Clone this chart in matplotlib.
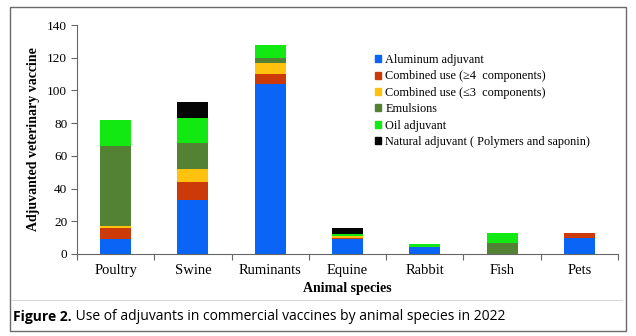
import matplotlib

matplotlib.use("Agg")
import matplotlib.pyplot as plt
import numpy as np
from matplotlib.lines import Line2D
from matplotlib.patches import Patch, Rectangle

plt.rcParams["font.family"] = ["Liberation Serif", "DejaVu Serif"]

species = ["Poultry", "Swine", "Ruminants", "Equine", "Rabbit", "Fish", "Pets"]
series_names = [
    "Aluminum adjuvant",
    "Combined use (\u22654  components)",
    "Combined use (\u22643  components)",
    "Emulsions",
    "Oil adjuvant",
    "Natural adjuvant ( Polymers and saponin)",
]
aluminum = [9, 33, 104, 9, 4, 0, 10]
combined_ge4 = [7, 11, 6, 1, 0, 0, 3]
combined_le3 = [1, 8, 7, 1, 0, 0, 0]
emulsions = [49, 16, 3, 0, 0, 7, 0]
oil = [16, 15, 8, 1, 2, 6, 0]
natural = [0, 10, 0, 4, 0, 0, 0]
colors = ["#0a64f5", "#cc3a0a", "#ffc20e", "#548235", "#12e812", "#050505"]

W, H = 636, 336
fig = plt.figure(figsize=(W / 100, H / 100), dpi=100)

# outer frame + caption separator
fig.add_artist(Rectangle((10 / W, 1 - 331 / H), 616 / W, 324 / H, transform=fig.transFigure,
                         fill=False, edgecolor="#6a6a6a", linewidth=1.0))
fig.add_artist(Line2D([12 / W, 622 / W], [1 - 300 / H] * 2, transform=fig.transFigure,
                      color="#d8d8d8", linewidth=0.8))

ax = fig.add_axes([77 / W, 1 - 254 / H, 541 / W, 229 / H])
x = np.arange(len(species))
bottom = np.zeros(len(species))
data = [aluminum, combined_ge4, combined_le3, emulsions, oil, natural]
for vals, name, c in zip(data, series_names, colors):
    ax.bar(x, vals, width=0.4, bottom=bottom, color=c, label=name)
    bottom += np.array(vals)

ax.set_xlim(-0.5, len(species) - 0.5)
ax.set_ylim(0, 140)
ax.set_yticks(range(0, 141, 20))
# tick marks sit between categories, labels centred under bars
ax.set_xticks(np.arange(-0.5, len(species), 1))
ax.set_xticklabels([])
ax.set_xticks(x, minor=True)
ax.set_xticklabels(species, minor=True, fontsize=10.5)
ax.tick_params(axis="x", which="minor", length=0, pad=7)
ax.tick_params(axis="x", which="major", length=4, color="#666666")
ax.tick_params(axis="y", length=4, color="#666666", labelsize=9.5, pad=3)
for s in ("top", "right"):
    ax.spines[s].set_visible(False)
for s in ("left", "bottom"):
    ax.spines[s].set_color("#666666")

ax.set_ylabel("Adjuvanted veterinary vaccine", fontsize=10, fontweight="bold", labelpad=5)
ax.set_xlabel("Animal species", fontsize=10, fontweight="bold", labelpad=4)

handles = [Patch(color=c) for c in colors]
ax.legend(handles, series_names, loc="upper left", bbox_to_anchor=(364 / W, 1 - 43 / H),
          bbox_transform=fig.transFigure, frameon=False, fontsize=8.8,
          handlelength=0.5, handleheight=0.5, handletextpad=0.35, labelspacing=0.36)

cap = fig.text(13 / W, 1 - 317 / H, "Figure 2.", fontsize=10, fontweight="bold",
               family="Open Sans", va="center")
ax.annotate(" Use of adjuvants in commercial vaccines by animal species in 2022",
            xy=(1, 0), xycoords=cap, va="bottom", ha="left", fontsize=10,
            family="Open Sans", annotation_clip=False)

fig.savefig("out.png", dpi=100)
